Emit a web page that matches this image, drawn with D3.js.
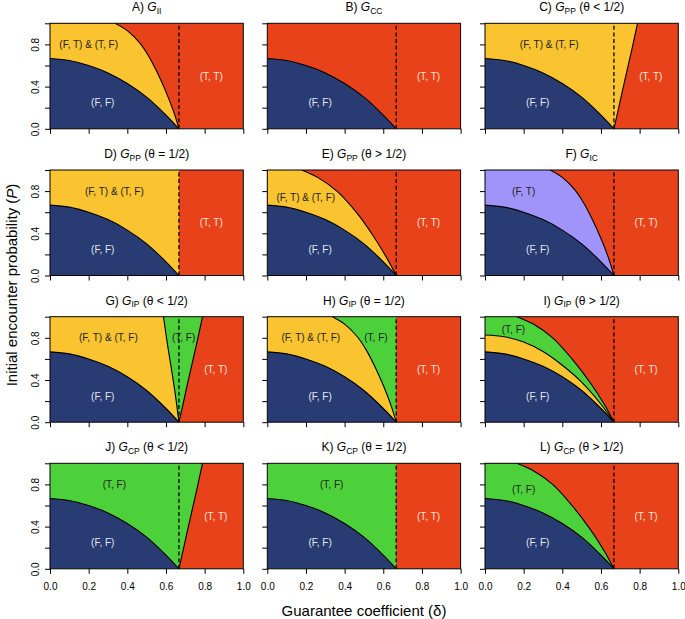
<!DOCTYPE html>
<html><head><meta charset="utf-8">
<script src="https://cdn.jsdelivr.net/npm/d3@7"></script>
<style>
body{margin:0;background:#fff}
text{font-family:"Liberation Sans",Arial,Helvetica,sans-serif}
</style></head>
<body><svg id="chart" width="685" height="619"></svg>
<script>
// ---------------- data ----------------
const deltaTicks = [0, 0.2, 0.4, 0.6, 0.8, 1.0];
const pTicks = [0, 0.2, 0.4, 0.6, 0.8, 1.0];
const pTickLabels = ["0.0", "", "0.4", "", "0.8", ""];
const deltaStar = 0.667;

// boundary curves, [delta, P]
const ffCurve   = [[0,0.667],[0.1,0.648],[0.2,0.6],[0.3,0.53],[0.4,0.43],[0.5,0.3],[0.6,0.13],[0.667,0]];
const midCurve  = [[0.337,1],[0.4,0.93],[0.466,0.81],[0.51,0.69],[0.553,0.54],[0.6,0.35],[0.64,0.16],[0.667,0]];
const highCurve = [[0.164,1],[0.25,0.93],[0.35,0.8],[0.45,0.6],[0.55,0.36],[0.62,0.16],[0.667,0]];
const highCurveE= [[0.178,1],[0.26,0.93],[0.36,0.8],[0.46,0.6],[0.55,0.37],[0.62,0.16],[0.667,0]];
const lowRight  = [[0.667,0],[0.688,0.17],[0.712,0.37],[0.737,0.57],[0.763,0.78],[0.789,1]];
const gLeft     = [[0.587,1],[0.61,0.71],[0.632,0.46],[0.65,0.24],[0.667,0]];
const iYellow   = [[0,0.827],[0.1,0.81],[0.2,0.76],[0.3,0.67],[0.4,0.54],[0.5,0.38],[0.6,0.17],[0.667,0]];

const panelLetters = ["A","B","C","D","E","F","G","H","I","J","K","L"];
const panelGames   = ["II","CC","PP","PP","PP","IC","IP","IP","IP","CP","CP","CP"];
const panelTheta   = ["","","<","=",">","","<","=",">","<","=",">"];

// region labels: [panel, text, delta, P, kind]
const regionLabels = [
 [0,"(F, T) & (T, F)",0.2,0.8,"MIX"],[0,"(F, F)",0.273,0.245,"FF"],[0,"(T, T)",0.834,0.5,"TT"],
 [1,"(F, F)",0.273,0.245,"FF"],[1,"(T, T)",0.834,0.5,"TT"],
 [2,"(F, T) & (T, F)",0.332,0.8,"MIX"],[2,"(F, F)",0.273,0.245,"FF"],[2,"(T, T)",0.858,0.5,"TT"],
 [3,"(F, T) & (T, F)",0.333,0.8,"MIX"],[3,"(F, F)",0.273,0.245,"FF"],[3,"(T, T)",0.834,0.5,"TT"],
 [4,"(F, T) & (T, F)",0.199,0.736,"MIX"],[4,"(F, F)",0.273,0.245,"FF"],[4,"(T, T)",0.834,0.5,"TT"],
 [5,"(F, T)",0.2,0.8,"FT"],[5,"(F, F)",0.273,0.245,"FF"],[5,"(T, T)",0.833,0.5,"TT"],
 [6,"(F, T) & (T, F)",0.302,0.8,"MIX"],[6,"(T, F)",0.691,0.8,"TF"],[6,"(F, F)",0.273,0.245,"FF"],[6,"(T, T)",0.858,0.5,"TT"],
 [7,"(F, T) & (T, F)",0.225,0.8,"MIX"],[7,"(T, F)",0.562,0.8,"TF"],[7,"(F, F)",0.273,0.245,"FF"],[7,"(T, T)",0.834,0.5,"TT"],
 [8,"(T, F)",0.147,0.88,"TF"],[8,"(F, F)",0.273,0.245,"FF"],[8,"(T, T)",0.833,0.5,"TT"],
 [9,"(T, F)",0.333,0.8,"TF"],[9,"(F, F)",0.273,0.245,"FF"],[9,"(T, T)",0.858,0.5,"TT"],
 [10,"(T, F)",0.333,0.8,"TF"],[10,"(F, F)",0.273,0.245,"FF"],[10,"(T, T)",0.834,0.5,"TT"],
 [11,"(T, F)",0.2,0.747,"TF"],[11,"(F, F)",0.273,0.245,"FF"],[11,"(T, T)",0.833,0.5,"TT"]
];

// ---------------- styling / layout ----------------
const COL = {FF:"#283B73", TT:"#E8421A", MIX:"#FAC330", TF:"#4CD13B", FT:"#A094FA"};
const TXT = {FF:"#E4E6F0", TT:"#FBE3D8", MIX:"#222", TF:"#222", FT:"#222"};
const W = 193.3, H = 105.5;
const colX = [50, 267.3, 485];
const rowY = [23.3, 170, 316.7, 463.3];

const rect = [[deltaStar,0],[deltaStar,1],[1,1],[1,0]];
const under = c => [[0,0],[0,1],c];
const FFreg = [[0,0],ffCurve];
const panelLayers = [
 {bg:"TT", regs:[["MIX",under(midCurve)],["FF",FFreg]], lines:[midCurve,ffCurve]},
 {bg:"TT", regs:[["FF",FFreg]], lines:[ffCurve]},
 {bg:"MIX", regs:[["TT",[lowRight,[1,1],[1,0]]],["FF",FFreg]], lines:[lowRight,ffCurve]},
 {bg:"MIX", regs:[["TT",rect],["FF",FFreg]], lines:[ffCurve]},
 {bg:"TT", regs:[["MIX",under(highCurveE)],["FF",FFreg]], lines:[highCurveE,ffCurve]},
 {bg:"TT", regs:[["FT",under(midCurve)],["FF",FFreg]], lines:[midCurve,ffCurve]},
 {bg:"MIX", regs:[["TF",[gLeft,[1,0],[1,1]]],["TT",[lowRight,[1,1],[1,0]]],["FF",FFreg]], lines:[gLeft,lowRight,ffCurve]},
 {bg:"MIX", regs:[["TF",[midCurve,[1,0],[1,1]]],["TT",rect],["FF",FFreg]], lines:[midCurve,ffCurve]},
 {bg:"TT", regs:[["TF",under(highCurve)],["MIX",[[0,0],iYellow]],["FF",FFreg]], lines:[highCurve,iYellow,ffCurve]},
 {bg:"TF", regs:[["TT",[lowRight,[1,1],[1,0]]],["FF",FFreg]], lines:[lowRight,ffCurve]},
 {bg:"TF", regs:[["TT",rect],["FF",FFreg]], lines:[ffCurve]},
 {bg:"TT", regs:[["TF",under(highCurve)],["FF",FFreg]], lines:[highCurve,ffCurve]}
];

const svg = d3.select("#chart");
const x = d3.scaleLinear().domain([0,1]).range([0,W]);
const y = d3.scaleLinear().domain([0,1]).range([H,0]);
const gen = d3.line().x(d=>x(d[0])).y(d=>y(d[1])).curve(d3.curveCatmullRom.alpha(0.5));

function regionPath(parts){
  let s = "";
  parts.forEach(p=>{
    if (typeof p[0] === "number") s += (s ? "L" : "M") + x(p[0]) + "," + y(p[1]);
    else { const c = gen(p); s += s ? "L" + c.slice(1) : c; }
  });
  return s + "Z";
}

svg.append("defs").append("clipPath").attr("id","clip")
  .append("rect").attr("width",W).attr("height",H);

panelLayers.forEach((pl,i)=>{
  const r = Math.floor(i/3), c = i%3;
  const g = svg.append("g").attr("transform",`translate(${colX[c]},${rowY[r]})`);
  const inner = g.append("g").attr("clip-path","url(#clip)");
  inner.append("rect").attr("width",W).attr("height",H).attr("fill",COL[pl.bg]);
  pl.regs.forEach(([k,parts])=>{
    inner.append("path").attr("d",regionPath(parts)).attr("fill",COL[k]);
  });
  pl.lines.forEach(ln=>{
    inner.append("path").attr("d",gen(ln)).attr("fill","none").attr("stroke","#000").attr("stroke-width",1.1);
  });
  inner.append("line").attr("x1",x(deltaStar)).attr("x2",x(deltaStar)).attr("y1",y(0)).attr("y2",y(1))
    .attr("stroke","#000").attr("stroke-width",1.3).attr("stroke-dasharray","4,2.6");

  regionLabels.filter(d=>d[0]===i).forEach(d=>{
    g.append("text").attr("x",x(d[2])).attr("y",y(d[3])).attr("dy","0.35em")
      .attr("text-anchor","middle").attr("font-size",10).attr("fill",TXT[d[4]]).text(d[1]);
  });

  g.append("rect").attr("width",W).attr("height",H).attr("fill","none").attr("stroke","#000").attr("stroke-width",1);

  const ax = g.append("g").attr("transform",`translate(0,${H})`)
    .call(d3.axisBottom(x).tickValues(deltaTicks).tickSize(5).tickPadding(9)
      .tickFormat(r===3 ? d3.format(".1f") : ""));
  const ay = g.append("g")
    .call(d3.axisLeft(y).tickValues(pTicks).tickSize(5)
      .tickFormat(c===0 ? (d,j)=>pTickLabels[j] : ""));
  [ax,ay].forEach(a=>{
    a.select(".domain").remove();
    a.selectAll("line").attr("stroke","#000");
    a.selectAll("text").attr("font-size",10).attr("fill","#000")
      .attr("font-family",'"Liberation Sans",Arial,sans-serif');
  });
  ay.selectAll("text").attr("x",0).attr("dy",0).attr("text-anchor","middle")
    .attr("transform","translate(-11.5,0) rotate(-90)");

  const t = g.append("text").attr("x",W/2).attr("y",-12).attr("text-anchor","middle").attr("font-size",12);
  t.append("tspan").text(panelLetters[i] + ") ");
  t.append("tspan").attr("font-style","italic").text("G");
  t.append("tspan").attr("font-size",8.5).attr("dy",2.5).text(panelGames[i]);
  if (panelTheta[i]) t.append("tspan").attr("dy",-2.5).text(" (θ " + panelTheta[i] + " 1/2)");
});

svg.append("text").attr("x",364).attr("y",611).attr("dy","0.35em").attr("text-anchor","middle")
  .attr("font-size",15).text("Guarantee coefficient (δ)");
const yl = svg.append("text").attr("transform","translate(12,285) rotate(-90)").attr("dy","0.35em")
  .attr("text-anchor","middle").attr("font-size",15);
yl.append("tspan").text("Initial encounter probability (");
yl.append("tspan").attr("font-style","italic").text("P");
yl.append("tspan").text(")");
</script></body></html>
